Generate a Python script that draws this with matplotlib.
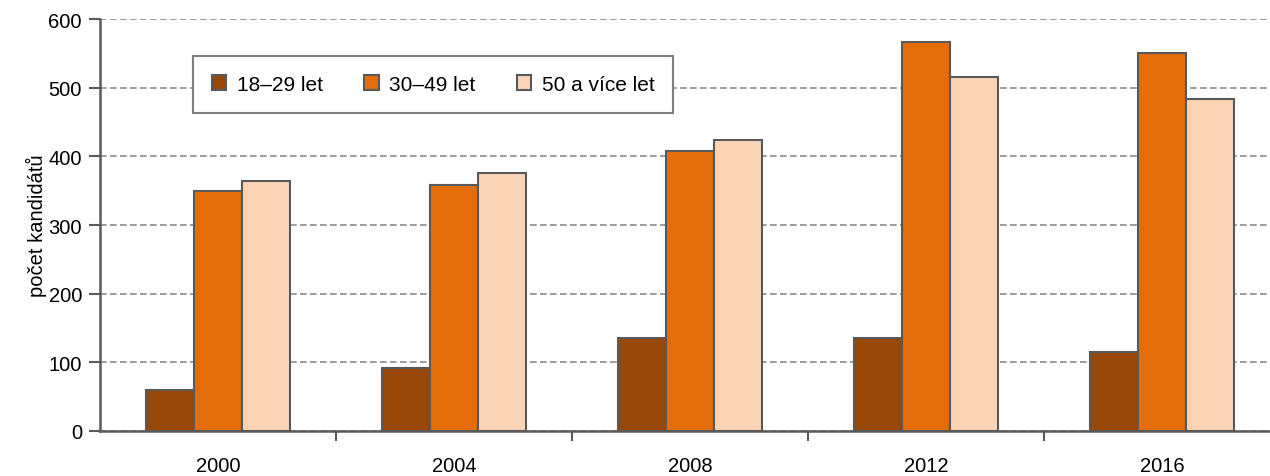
import numpy as np
import matplotlib.pyplot as plt
from matplotlib.ticker import FixedLocator, NullFormatter

plt.rcParams['font.family'] = ['Liberation Sans', 'DejaVu Sans']

years = ['2000', '2004', '2008', '2012', '2016']
series = ['18–29 let', '30–49 let', '50 a více let']
young = [60, 92, 135, 135, 115]
middle = [349, 358, 408, 566, 551]
old = [364, 376, 424, 516, 484]
colors = ['#984807', '#E46C0A', '#FAD4B4']

fig = plt.figure(figsize=(12.7, 4.77), dpi=100)
ax = fig.add_axes([100 / 1270, 1 - 432 / 477, 1180 / 1270, 412 / 477])

x = np.arange(len(years))
w = 0.2034
for i, (vals, c, lab) in enumerate(zip([young, middle, old], colors, series)):
    ax.bar(x + (i - 1) * w, vals, width=w, color=c, edgecolor='#595959',
           linewidth=1.5, label=lab, zorder=3)

ax.set_xlim(-0.5, 4.5)
ax.set_ylim(0, 600)
ax.set_yticks(np.arange(0, 601, 100))
ax.yaxis.grid(True, linestyle=(0, (4, 2)), color='#8c8c8c', linewidth=1.2, zorder=0)
ax.set_axisbelow(True)

# category boundaries as ticks, labels at the centres
ax.xaxis.set_major_locator(FixedLocator(x[:-1] + 0.5))
ax.xaxis.set_major_formatter(NullFormatter())
ax.xaxis.set_minor_locator(FixedLocator(x))
ax.set_xticklabels(years, minor=True)
ax.tick_params(axis='x', which='major', length=7, width=1.5, color='#595959', direction='out')
ax.tick_params(axis='x', which='minor', length=0, pad=18, labelsize=14.5)
ax.tick_params(axis='y', length=8, width=1.5, color='#595959', labelsize=14.5, pad=5)

for s in ['top', 'right']:
    ax.spines[s].set_visible(False)
for s in ['left', 'bottom']:
    ax.spines[s].set_color('#595959')
    ax.spines[s].set_linewidth(1.8)

ax.set_ylabel('počet kandidátů', fontsize=14.5, labelpad=1)

leg = ax.legend(loc='upper left', bbox_to_anchor=(93 / 1180, 1 - 98 / 412, 480 / 1180, 61 / 412),
                mode='expand', ncol=3, fontsize=15, frameon=True, fancybox=False,
                handlelength=0.7, handleheight=0.7, handletextpad=0.5,
                columnspacing=1.5, borderpad=0.9, borderaxespad=0)
leg._legend_box.align = 'center'
leg.get_frame().set_edgecolor('#7f7f7f')
leg.get_frame().set_linewidth(1.5)
leg.get_frame().set_alpha(1)

fig.savefig('out.png', dpi=100)
